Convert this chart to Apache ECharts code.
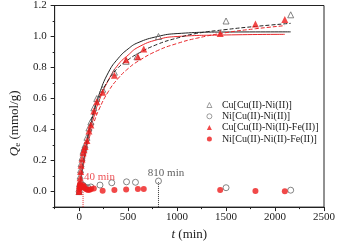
<!DOCTYPE html>
<html>
<head>
<meta charset="utf-8">
<script src="https://cdn.jsdelivr.net/npm/echarts@6/dist/echarts.min.js"></script>
<style>
  html, body { margin: 0; padding: 0; background: #fff; }
  #chart { width: 338px; height: 246px; }
</style>
</head>
<body>
<div id="chart"></div>
<script>
// tick labels
const xMajor = [0, 500, 1000, 1500, 2000, 2500]
const xMinor = [-250, 0, 250, 500, 750, 1000, 1250, 1500, 1750, 2000, 2250, 2500]
const yMajor = [0, 0.2, 0.4, 0.6, 0.8, 1.0, 1.2]
const yMinor = [-0.1, 0, 0.1, 0.2, 0.3, 0.4, 0.5, 0.6, 0.7, 0.8, 0.9, 1.0, 1.1, 1.2]

// Cu[Cu(II)-Ni(II)]  open triangles
const cuNiT = [0, 5, 10, 15, 20, 30, 40, 50, 60, 80, 100, 120, 150, 180, 240, 360, 480, 590, 810, 1500, 2160]
const cuNiQ = [0, 0.05, 0.10, 0.14, 0.18, 0.22, 0.26, 0.28, 0.30, 0.35, 0.41, 0.45, 0.54, 0.60, 0.66, 0.77, 0.84, 0.87, 1.00, 1.10, 1.14]
// Ni[Cu(II)-Ni(II)]  open circles
const niNiT = [0, 10, 20, 40, 60, 90, 120, 213, 333, 484, 575, 810, 1500, 2160]
const niNiQ = [0, 0.03, 0.05, 0.04, 0.03, 0.025, 0.03, 0.042, 0.057, 0.063, 0.06, 0.068, 0.025, 0.009]
// Cu[Cu(II)-Ni(II)-Fe(II)]  red triangles
const cuFeT = [0, 5, 10, 15, 20, 30, 40, 50, 60, 80, 100, 120, 150, 180, 240, 360, 480, 600, 660, 1440, 1800, 2100]
const cuFeQ = [0, 0.04, 0.09, 0.13, 0.17, 0.21, 0.25, 0.27, 0.29, 0.33, 0.39, 0.43, 0.52, 0.58, 0.64, 0.75, 0.85, 0.87, 0.92, 1.02, 1.08, 1.11]
// Ni[Cu(II)-Ni(II)-Fe(II)]  red circles
const niFeT = [0, 3, 6, 10, 15, 20, 25, 30, 40, 50, 60, 75, 90, 105, 120, 150, 240, 360, 480, 600, 660, 1440, 1800, 2100]
const niFeQ = [0, 0.02, 0.04, 0.05, 0.04, 0.03, 0.035, 0.03, 0.04, 0.03, 0.02, 0.015, 0.01, 0.012, 0.015, 0.02, 0.005, 0.01, 0.013, 0.017, 0.017, 0.011, 0.004, 0.003]

// fitted curves
const fitBlackT = [0, 25, 50, 100, 150, 200, 300, 400, 500, 600, 800, 1000, 1500, 2160]
const fitBlackQ = [0, 0.11, 0.21, 0.38, 0.51, 0.62, 0.77, 0.86, 0.92, 0.96, 1.0, 1.019, 1.029, 1.03]
const fitRedT = [0, 25, 50, 100, 150, 200, 300, 400, 500, 600, 800, 1000, 1500, 2100]
const fitRedQ = [0, 0.10, 0.19, 0.36, 0.48, 0.58, 0.72, 0.82, 0.88, 0.93, 0.98, 1.0, 1.01, 1.014]
const dashBlackT = [0, 25, 50, 100, 150, 200, 300, 400, 500, 600, 800, 1000, 1200, 1500, 1800, 2160]
const dashBlackQ = [0, 0.12, 0.23, 0.40, 0.52, 0.60, 0.72, 0.80, 0.85, 0.89, 0.95, 0.99, 1.02, 1.045, 1.065, 1.085]
const dashRedT = [0, 25, 50, 100, 150, 200, 300, 400, 500, 600, 800, 1000, 1200, 1500, 1800, 2100]
const dashRedQ = [0, 0.107, 0.196, 0.337, 0.443, 0.526, 0.647, 0.731, 0.793, 0.84, 0.909, 0.955, 0.989, 1.025, 1.05, 1.07]

// annotations
const markT = [40, 810]
const markTop = [0.0, 0.06]
const markLabels = ['40 min', '810 min']

const font = 'Liberation Serif'
const pairs = (t, q) => t.map((v, i) => [v, q[i]])

let chart = echarts.init(document.getElementById('chart'))

const axisBase = {
  type: 'value',
  splitLine: { show: false },
  axisLine: { show: true, onZero: false, lineStyle: { color: '#222', width: 1 } },
}

let options = {
  animation: false,
  textStyle: { fontFamily: font },
  grid: {
    left: 42, right: 12, top: 5.5, bottom: 34.5,
    show: true, borderColor: '#222', borderWidth: 1,
  },
  legend: {
    orient: 'vertical',
    left: 201.5, top: 95,
    itemWidth: 5, itemHeight: 5, itemGap: 1.3,
    itemStyle: { borderWidth: 0.8 },
    textStyle: { fontFamily: font, fontSize: 10, color: '#222', lineHeight: 8, padding: [0, 0, 0, 5] },
    data: ['Cu[Cu(II)-Ni(II)]', 'Ni[Cu(II)-Ni(II)]', 'Cu[Cu(II)-Ni(II)-Fe(II)]', 'Ni[Cu(II)-Ni(II)-Fe(II)]'],
  },
  xAxis: [
    Object.assign({}, axisBase, {
      min: -250, max: 2500, interval: 250,
      name: '{i|t} (min)',
      nameLocation: 'middle', nameGap: 19,
      nameTextStyle: {
        fontFamily: font, fontSize: 13, color: '#222',
        rich: { i: { fontFamily: font, fontSize: 13, fontStyle: 'italic', color: '#222' } },
      },
      axisTick: { show: true, inside: false, length: 4, customValues: xMajor, lineStyle: { color: '#222' } },
      axisLabel: { customValues: xMajor, margin: 5, fontSize: 11, color: '#222', fontFamily: font, formatter: v => String(v) },
    }),
    Object.assign({}, axisBase, {
      min: -250, max: 2500, interval: 250, position: 'bottom',
      axisLine: { show: false, onZero: false },
      axisTick: { show: true, length: 2, customValues: xMinor, lineStyle: { color: '#222' } },
      axisLabel: { show: false },
    }),
  ],
  yAxis: [
    Object.assign({}, axisBase, {
      min: -0.1, max: 1.2, interval: 0.1,
      name: '{q|Q}{e|e} (mmol/g)',
      nameLocation: 'middle', nameGap: 28,
      nameTextStyle: {
        fontFamily: font, fontSize: 13, color: '#222', padding: [0, 34, 0, 0],
        rich: {
          q: { fontFamily: font, fontSize: 13, fontStyle: 'italic', color: '#222' },
          e: { fontFamily: font, fontSize: 9, color: '#222', verticalAlign: 'bottom', padding: [6, 0, 0, 0] },
        },
      },
      axisTick: { show: true, length: 4, customValues: yMajor, lineStyle: { color: '#222' } },
      axisLabel: {
        customValues: yMajor, margin: 8, fontSize: 11, color: '#222', fontFamily: font,
        formatter: v => v.toFixed(1),
      },
    }),
    Object.assign({}, axisBase, {
      min: -0.1, max: 1.2, interval: 0.1, position: 'left',
      axisLine: { show: false, onZero: false },
      axisTick: { show: true, length: 2, customValues: yMinor, lineStyle: { color: '#222' } },
      axisLabel: { show: false },
    }),
  ],
  series: [
    {
      type: 'line', data: pairs(fitBlackT, fitBlackQ), smooth: true, showSymbol: false, silent: true,
      lineStyle: { color: '#222', width: 1 }, z: 2,
    },
    {
      type: 'line', data: pairs(fitRedT, fitRedQ), smooth: true, showSymbol: false, silent: true,
      lineStyle: { color: '#e8262a', width: 1 }, z: 2,
    },
    {
      type: 'line', data: pairs(dashBlackT, dashBlackQ), smooth: true, showSymbol: false, silent: true,
      lineStyle: { color: '#222', width: 1, type: [4, 2] }, z: 2,
    },
    {
      type: 'line', data: pairs(dashRedT, dashRedQ), smooth: true, showSymbol: false, silent: true,
      lineStyle: { color: '#e8262a', width: 1, type: [4, 2] }, z: 2,
    },
    {
      type: 'line', data: [[markT[0], -0.1], [markT[0], markTop[0]]], showSymbol: false, silent: true,
      lineStyle: { color: '#e8262a', width: 1, type: [1, 1] }, z: 2,
    },
    {
      type: 'line', data: [[markT[1], -0.1], [markT[1], markTop[1]]], showSymbol: false, silent: true,
      lineStyle: { color: '#333', width: 1, type: [1, 1] }, z: 2,
    },
    {
      name: 'Cu[Cu(II)-Ni(II)]', type: 'scatter', symbol: 'triangle', symbolSize: 6,
      data: pairs(cuNiT, cuNiQ),
      itemStyle: { color: 'rgba(255,255,255,0)', borderColor: '#666', borderWidth: 1 }, z: 3,
    },
    {
      name: 'Ni[Cu(II)-Ni(II)]', type: 'scatter', symbol: 'circle', symbolSize: 6,
      data: pairs(niNiT, niNiQ),
      itemStyle: { color: 'rgba(255,255,255,0)', borderColor: '#666', borderWidth: 1 }, z: 3,
    },
    {
      name: 'Cu[Cu(II)-Ni(II)-Fe(II)]', type: 'scatter', symbol: 'triangle', symbolSize: 7,
      data: pairs(cuFeT, cuFeQ),
      itemStyle: { color: '#ee1c1c' }, z: 4,
    },
    {
      name: 'Ni[Cu(II)-Ni(II)-Fe(II)]', type: 'scatter', symbol: 'circle', symbolSize: 6,
      data: pairs(niFeT, niFeQ),
      itemStyle: { color: '#ee1c1c' }, z: 4,
    },
    {
      type: 'scatter', symbolSize: 0, silent: true, z: 5,
      data: [[markT[0], 0.095]],
      label: { show: true, position: 'right', distance: 1, formatter: markLabels[0], color: '#e8262a', fontSize: 11, fontFamily: font },
    },
    {
      type: 'scatter', symbolSize: 0, silent: true, z: 5,
      data: [[887, 0.12]],
      label: { show: true, position: 'inside', formatter: markLabels[1], color: '#333', fontSize: 11, fontFamily: font },
    },
  ],
}
chart.setOption(options)
</script>
</body>
</html>
